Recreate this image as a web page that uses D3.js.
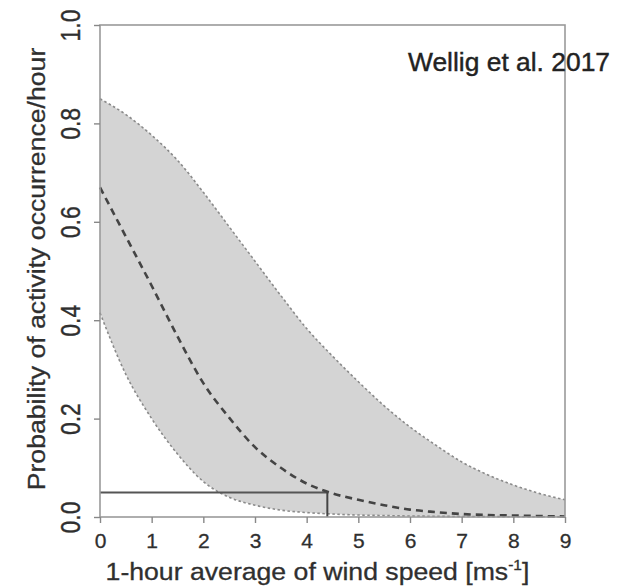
<!DOCTYPE html>
<html>
<head>
<meta charset="utf-8">
<script src="https://cdn.jsdelivr.net/npm/d3@7"></script>
<style>
  html, body { margin: 0; padding: 0; background: #fff; }
  svg { display: block; }
  text { font-family: "Liberation Sans", Arial, Helvetica, sans-serif; }
</style>
</head>
<body>
<svg id="chart" width="635" height="586"></svg>
<script>
// ---- data ----
const windSpeed = [0, 0.5, 1, 1.5, 2, 2.5, 3, 3.5, 4, 4.5, 5, 5.5, 6, 6.5, 7, 7.5, 8, 8.5, 9];
const upperCI   = [0.85, 0.818, 0.776, 0.725, 0.66, 0.59, 0.52, 0.45, 0.383, 0.327, 0.275, 0.226, 0.183, 0.146, 0.112, 0.086, 0.065, 0.048, 0.035];
const meanProb  = [0.67, 0.57, 0.47, 0.367, 0.272, 0.202, 0.142, 0.100, 0.068, 0.048, 0.035, 0.024, 0.015, 0.010, 0.006, 0.004, 0.003, 0.002, 0.001];
const lowerCI   = [0.415, 0.29, 0.20, 0.128, 0.072, 0.040, 0.024, 0.014, 0.009, 0.006, 0.004, 0.003, 0.002, 0.0015, 0.001, 0.0008, 0.0005, 0.0004, 0.0003];
const thresholdProb = 0.05;
const thresholdWind = 4.4;
const xTicks = [0, 1, 2, 3, 4, 5, 6, 7, 8, 9];
const yTicks = [0, 0.2, 0.4, 0.6, 0.8, 1.0];
const xTitle = "1-hour average of wind speed [ms";
const xTitleSup = "-1";
const yTitle = "Probability of activity occurrence/hour";
const sourceNote = "Wellig et al. 2017";

// ---- layout ----
const svg = d3.select("#chart");
const mLeft = 100, mRight = 565, mTop = 25, mBottom = 517;
const x = d3.scaleLinear().domain([0, 9]).range([mLeft, mRight]);
const y = d3.scaleLinear().domain([0, 1]).range([mBottom, mTop]);

const rows = windSpeed.map((w, i) => ({ w, lo: lowerCI[i], hi: upperCI[i], m: meanProb[i] }));

// band
svg.append("path")
  .datum(rows)
  .attr("fill", "#d4d4d4")
  .attr("d", d3.area().curve(d3.curveMonotoneX)
    .x(d => x(d.w)).y0(d => y(d.lo)).y1(d => y(d.hi)));

// band edges (dotted)
["hi", "lo"].forEach(k => {
  svg.append("path")
    .datum(rows)
    .attr("fill", "none")
    .attr("stroke", "#8a8a8a")
    .attr("stroke-width", 1.6)
    .attr("stroke-dasharray", "2.5,2.5")
    .attr("d", d3.line().curve(d3.curveMonotoneX).x(d => x(d.w)).y(d => y(d[k])));
});

// threshold lines
svg.append("line")
  .attr("x1", x(0)).attr("x2", x(thresholdWind))
  .attr("y1", y(thresholdProb)).attr("y2", y(thresholdProb))
  .attr("stroke", "#555").attr("stroke-width", 2);
svg.append("line")
  .attr("x1", x(thresholdWind)).attr("x2", x(thresholdWind))
  .attr("y1", y(thresholdProb)).attr("y2", y(0))
  .attr("stroke", "#444").attr("stroke-width", 2);

// mean (dashed)
svg.append("path")
  .datum(rows)
  .attr("fill", "none")
  .attr("stroke", "#444")
  .attr("stroke-width", 2.6)
  .attr("stroke-dasharray", "7,5")
  .attr("d", d3.line().curve(d3.curveMonotoneX).x(d => x(d.w)).y(d => y(d.m)));

// frame
svg.append("rect")
  .attr("x", mLeft).attr("y", mTop)
  .attr("width", mRight - mLeft).attr("height", mBottom - mTop)
  .attr("fill", "none").attr("stroke", "#9a9a9a").attr("stroke-width", 1.6);

// axes
const gx = svg.append("g").attr("transform", `translate(0,${mBottom})`)
  .call(d3.axisBottom(x).tickValues(xTicks).tickSize(6).tickSizeOuter(0).tickPadding(10).tickFormat(d3.format("d")));
gx.select(".domain").remove();
gx.selectAll(".tick line").attr("stroke", "#888").attr("stroke-width", 1.4);
gx.selectAll(".tick text").attr("fill", "#2f2f2f").attr("font-size", 21).attr("dy", "0.71em")
  .attr("stroke", "#2f2f2f").attr("stroke-width", 0.3);

const gy = svg.append("g").attr("transform", `translate(${mLeft},0)`)
  .call(d3.axisLeft(y).tickValues(yTicks).tickSize(6).tickSizeOuter(0).tickFormat(d3.format(".1f")));
gy.select(".domain").remove();
gy.selectAll(".tick line").attr("stroke", "#888").attr("stroke-width", 1.4);
gy.selectAll(".tick text")
  .attr("fill", "#2f2f2f").attr("font-size", 23)
  .attr("stroke", "#2f2f2f").attr("stroke-width", 0.3)
  .attr("x", null).attr("dy", null)
  .attr("text-anchor", "middle")
  .attr("transform", "translate(-20,0) rotate(-90) scale(1,1.2)");

// titles
const xt = svg.append("text")
  .attr("transform", `translate(${(mLeft + mRight) / 2 - 15},580) scale(1.11,1)`)
  .attr("text-anchor", "middle").attr("font-size", 24).attr("fill", "#2f2f2f")
  .attr("stroke", "#2f2f2f").attr("stroke-width", 0.3);
xt.append("tspan").text(xTitle);
xt.append("tspan").attr("dy", -10).attr("font-size", 14).text(xTitleSup);
xt.append("tspan").attr("dy", 10).text("]");

svg.append("text")
  .attr("transform", `translate(45,269) rotate(-90) scale(1.11,1)`)
  .attr("text-anchor", "middle").attr("font-size", 24).attr("fill", "#2f2f2f")
  .attr("stroke", "#2f2f2f").attr("stroke-width", 0.3)
  .text(yTitle);

svg.append("text")
  .attr("x", 408).attr("y", 71)
  .attr("font-size", 25).attr("fill", "#222")
  .attr("stroke", "#222").attr("stroke-width", 0.4)
  .attr("textLength", 202).attr("lengthAdjust", "spacingAndGlyphs")
  .text(sourceNote);
</script>
</body>
</html>
